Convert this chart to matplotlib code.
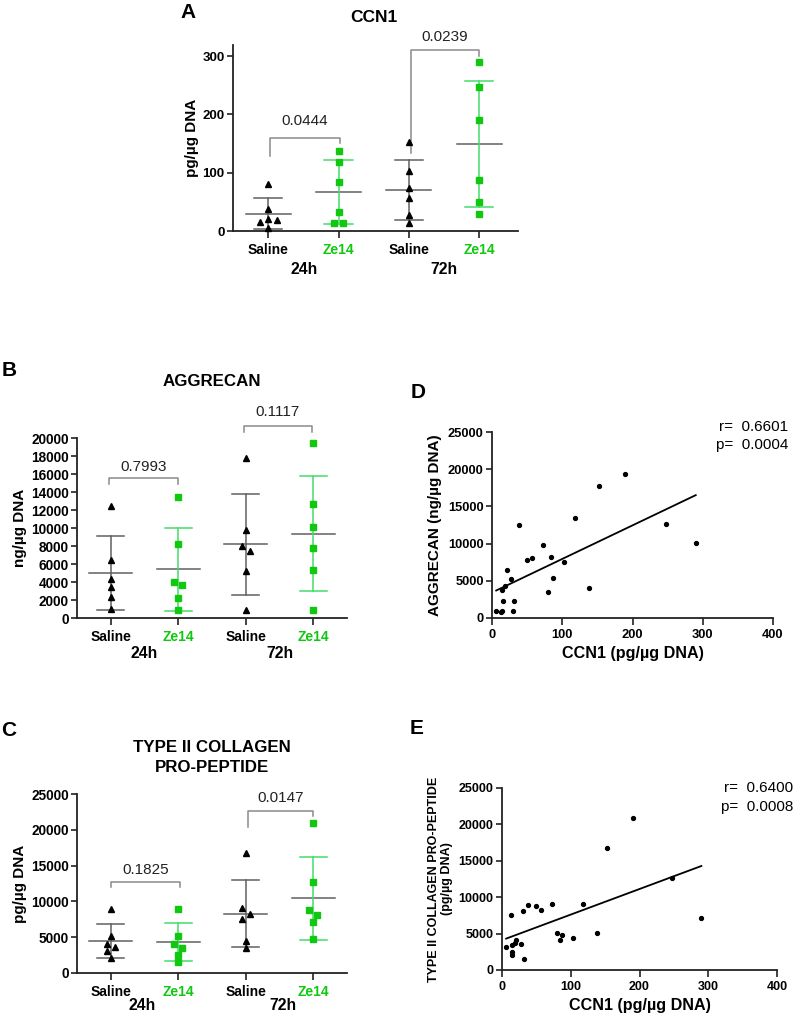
import numpy as np
import matplotlib
matplotlib.use("Agg")
import matplotlib.pyplot as plt

plt.rcParams['font.family'] = ['Liberation Sans', 'DejaVu Sans']

# ---------------- data (per animal order within each group) ----------------
groups = ["Saline", "Ze14", "Saline", "Ze14"]
times = ["24h", "72h"]

ccn1_saline_24 = [80, 38, 21, 19, 15, 6]
ccn1_ze14_24 = [138, 118, 84, 32, 14, 14]
ccn1_saline_72 = [152, 103, 73, 57, 27, 13]
ccn1_ze14_72 = [290, 247, 190, 87, 50, 30]

agg_saline_24 = [3500, 12500, 6400, 4300, 2300, 1000]
agg_ze14_24 = [4000, 13400, 8200, 2250, 3700, 900]
agg_saline_72 = [17800, 7500, 9800, 8000, 5250, 850]
agg_ze14_72 = [10100, 12650, 19400, 5350, 7800, 900]

col_saline_24 = [5100, 8900, 4100, 3700, 2100, 3100]
col_ze14_24 = [5150, 9000, 4100, 1550, 3500, 2500]
col_saline_72 = [16800, 4450, 9050, 8300, 3550, 7600]
col_ze14_72 = [7150, 12650, 20900, 4800, 8850, 8150]

p_ccn1 = ["0.0444", "0.0239"]
p_agg = ["0.7993", "0.1117"]
p_col = ["0.1825", "0.0147"]

r_d, pval_d = "0.6601", "0.0004"
r_e, pval_e = "0.6400", "0.0008"

# ---------------- style ----------------
W, H = 796, 1015
GREEN = "#10c810"
GREEN_BAR = "#45dc6a"
GRAY = "#606060"
BRACKET = "#8a8a8a"
AXC = "#222222"

fig = plt.figure(figsize=(W / 100, H / 100), dpi=100)


def rect(l, r, t, b):
    return [l / W, 1 - b / H, (r - l) / W, (b - t) / H]


def ftext(x, y, s, **kw):
    fig.text(x / W, 1 - y / H, s, **kw)


def style_axes(ax, tick_size):
    for s in ["top", "right"]:
        ax.spines[s].set_visible(False)
    for s in ["left", "bottom"]:
        ax.spines[s].set_linewidth(1.3)
        ax.spines[s].set_color(AXC)
    ax.tick_params(axis="both", direction="out", length=4, width=1.2, color=AXC,
                   labelsize=tick_size, pad=2)
    for lab in ax.get_yticklabels() + ax.get_xticklabels():
        lab.set_fontweight("bold")


def swarm_offsets(vals, thr, dx):
    """Simple beeswarm: spread colliding points sideways, then centre each cluster."""
    n = len(vals)
    order = np.argsort(vals)[::-1]
    offs = np.zeros(n)
    placed = []
    cands = [0, dx, -dx, 2 * dx, -2 * dx, 3 * dx, -3 * dx]
    for i in order:
        for c in cands:
            if all(not (abs(vals[j] - vals[i]) < thr and abs(offs[j] - c) < dx * 0.9)
                   for j in placed):
                offs[i] = c
                break
        placed.append(i)
    parent = list(range(n))

    def find(a):
        while parent[a] != a:
            a = parent[a]
        return a

    for a in range(n):
        for b in range(a + 1, n):
            if abs(vals[a] - vals[b]) < thr:
                parent[find(a)] = find(b)
    roots = {}
    for a in range(n):
        roots.setdefault(find(a), []).append(a)
    for members in roots.values():
        if len(members) > 1:
            offs[members] -= (offs[members].max() + offs[members].min()) / 2
    return offs


def dot_panel(ax, data, ylim, yticks, tick_size):
    thr = (ylim[1] - ylim[0]) * 0.035
    for k, vals in enumerate(data):
        x0 = k + 1
        vals = np.asarray(vals, dtype=float)
        m = vals.mean()
        sd = vals.std(ddof=1)
        is_ze = (k % 2 == 1)
        bar_c = GREEN_BAR if is_ze else GRAY
        ax.plot([x0 - 0.32, x0 + 0.32], [m, m], color=GRAY, lw=1.1, zorder=2, clip_on=False)
        ax.plot([x0, x0], [m - sd, m + sd], color=bar_c, lw=1.1, zorder=2, clip_on=False)
        for yy in (m - sd, m + sd):
            ax.plot([x0 - 0.2, x0 + 0.2], [yy, yy], color=bar_c, lw=1.1, zorder=2, clip_on=False)
        offs = swarm_offsets(vals, thr, 0.12)
        if is_ze:
            ax.plot(x0 + offs, vals, ls="none", marker="s", ms=4.6, color=GREEN,
                    mec=GREEN, zorder=3, clip_on=False)
        else:
            ax.plot(x0 + offs, vals, ls="none", marker="^", ms=4.8, color="black",
                    mec="black", zorder=3, clip_on=False)
    ax.set_ylim(*ylim)
    ax.set_yticks(yticks)
    ax.set_xticks([1, 2, 3, 4])
    ax.set_xticklabels(groups)
    style_axes(ax, tick_size)
    for i, lab in enumerate(ax.get_xticklabels()):
        lab.set_fontsize(10)
        lab.set_color(GREEN if i % 2 == 1 else "black")
    ax.tick_params(axis="x", length=5, pad=3.5)


def bracket(ax, x1, x2, y, yl, yr, label, ylab):
    ax.plot([x1, x1, x2, x2], [yl, y, y, yr], color=BRACKET, lw=1.1, clip_on=False, zorder=1)
    ax.text((x1 + x2) / 2, ylab, label, ha="center", va="center", fontsize=11,
            color="#222222", clip_on=False)


# ---------------- Panel A ----------------
axA = fig.add_axes(rect(233, 518, 45, 231))
axA.set_xlim(0.5, 4.55)
dot_panel(axA, [ccn1_saline_24, ccn1_ze14_24, ccn1_saline_72, ccn1_ze14_72],
          (0, 319), [0, 100, 200, 300], 9.5)
axA.set_ylabel("pg/µg DNA", fontsize=11, fontweight="bold")
axA.yaxis.set_label_coords(-0.118, 0.5)
bracket(axA, 1.03, 2.02, 160, 129, 151, p_ccn1[0], 188)
bracket(axA, 3.03, 4.0, 310, 134, 300, p_ccn1[1], 332)
ftext(188, 13, "A", fontsize=15, fontweight="bold", ha="center", va="center")
ftext(374, 18, "CCN1", fontsize=12.5, fontweight="bold", ha="center", va="center")
ftext(304, 269, times[0], fontsize=11.3, fontweight="bold", ha="center", va="center")
ftext(444, 269, times[1], fontsize=11.3, fontweight="bold", ha="center", va="center")

# ---------------- Panel B ----------------
axB = fig.add_axes(rect(77, 347, 438, 618))
axB.set_xlim(0.5, 4.5)
dot_panel(axB, [agg_saline_24, agg_ze14_24, agg_saline_72, agg_ze14_72],
          (0, 20000), list(range(0, 20001, 2000)), 9.8)
axB.set_ylabel("ng/µg DNA", fontsize=11, fontweight="bold")
axB.yaxis.set_label_coords(-0.185, 0.5)
bracket(axB, 0.98, 1.99, 15560, 14900, 14900, p_agg[0], 16750)
bracket(axB, 2.97, 3.98, 21300, 20700, 20700, p_agg[1], 22850)
ftext(9, 370, "B", fontsize=15, fontweight="bold", ha="center", va="center")
ftext(212, 382, "AGGRECAN", fontsize=12.2, fontweight="bold", ha="center", va="center")
ftext(144, 653, times[0], fontsize=11.3, fontweight="bold", ha="center", va="center")
ftext(280, 653, times[1], fontsize=11.3, fontweight="bold", ha="center", va="center")

# ---------------- Panel C ----------------
axC = fig.add_axes(rect(77, 347, 794, 973))
axC.set_xlim(0.5, 4.5)
dot_panel(axC, [col_saline_24, col_ze14_24, col_saline_72, col_ze14_72],
          (0, 25000), list(range(0, 25001, 5000)), 9.8)
axC.set_ylabel("pg/µg DNA", fontsize=11, fontweight="bold")
axC.yaxis.set_label_coords(-0.185, 0.5)
bracket(axC, 1.01, 2.02, 12730, 11990, 11990, p_col[0], 14400)
bracket(axC, 3.03, 4.0, 22630, 20350, 21980, p_col[1], 24400)
ftext(9, 730, "C", fontsize=15, fontweight="bold", ha="center", va="center")
ftext(212, 747, "TYPE II COLLAGEN", fontsize=12.2, fontweight="bold", ha="center", va="center")
ftext(212, 767, "PRO-PEPTIDE", fontsize=12.2, fontweight="bold", ha="center", va="center")
ftext(142, 1006, times[0], fontsize=11.3, fontweight="bold", ha="center", va="center")
ftext(283, 1006, times[1], fontsize=11.3, fontweight="bold", ha="center", va="center")

# ---------------- scatter data ----------------
ccn1_all = np.array(ccn1_saline_24 + ccn1_ze14_24 + ccn1_saline_72 + ccn1_ze14_72, float)
agg_all = np.array(agg_saline_24 + agg_ze14_24 + agg_saline_72 + agg_ze14_72, float)
col_all = np.array(col_saline_24 + col_ze14_24 + col_saline_72 + col_ze14_72, float)


def scatter_panel(ax, x, y, tick_size):
    ax.plot(x, y, ls="none", marker="o", ms=2.8, color="black", zorder=3, clip_on=False)
    slope, icpt = np.polyfit(x, y, 1)
    xs = np.array([x.min(), x.max()])
    ax.plot(xs, slope * xs + icpt, color="black", lw=1.3, zorder=2)
    ax.set_xlim(0, 400)
    ax.set_ylim(0, 25000)
    ax.set_xticks([0, 100, 200, 300, 400])
    ax.set_yticks(list(range(0, 25001, 5000)))
    style_axes(ax, tick_size)
    ax.tick_params(axis="x", length=5, pad=3)
    ax.set_xlabel("CCN1 (pg/µg DNA)", fontsize=11.6, fontweight="bold")


axD = fig.add_axes(rect(492, 773, 432, 618))
scatter_panel(axD, ccn1_all, agg_all, 9.3)
axD.xaxis.set_label_coords(0.5, -0.15)
axD.set_ylabel("AGGRECAN (ng/µg DNA)", fontsize=11, fontweight="bold")
axD.yaxis.set_label_coords(-0.178, 0.5)
ftext(788, 427, "r=  " + r_d, fontsize=11, ha="right", va="center")
ftext(788, 445, "p=  " + pval_d, fontsize=11, ha="right", va="center")
ftext(418, 392, "D", fontsize=15, fontweight="bold", ha="center", va="center")

axE = fig.add_axes(rect(502, 777, 788, 970))
scatter_panel(axE, ccn1_all, col_all, 9.0)
axE.xaxis.set_label_coords(0.5, -0.152)
axE.set_ylabel("TYPE II COLLAGEN PRO-PEPTIDE\n(pg/µg DNA)", fontsize=9,
               fontweight="bold", linespacing=1.1)
axE.yaxis.set_label_coords(-0.178, 0.5)
ftext(793, 788, "r=  " + r_e, fontsize=11, ha="right", va="center")
ftext(793, 807, "p=  " + pval_e, fontsize=11, ha="right", va="center")
ftext(417, 728, "E", fontsize=15, fontweight="bold", ha="center", va="center")

fig.savefig("out.png", dpi=100, facecolor="white")
